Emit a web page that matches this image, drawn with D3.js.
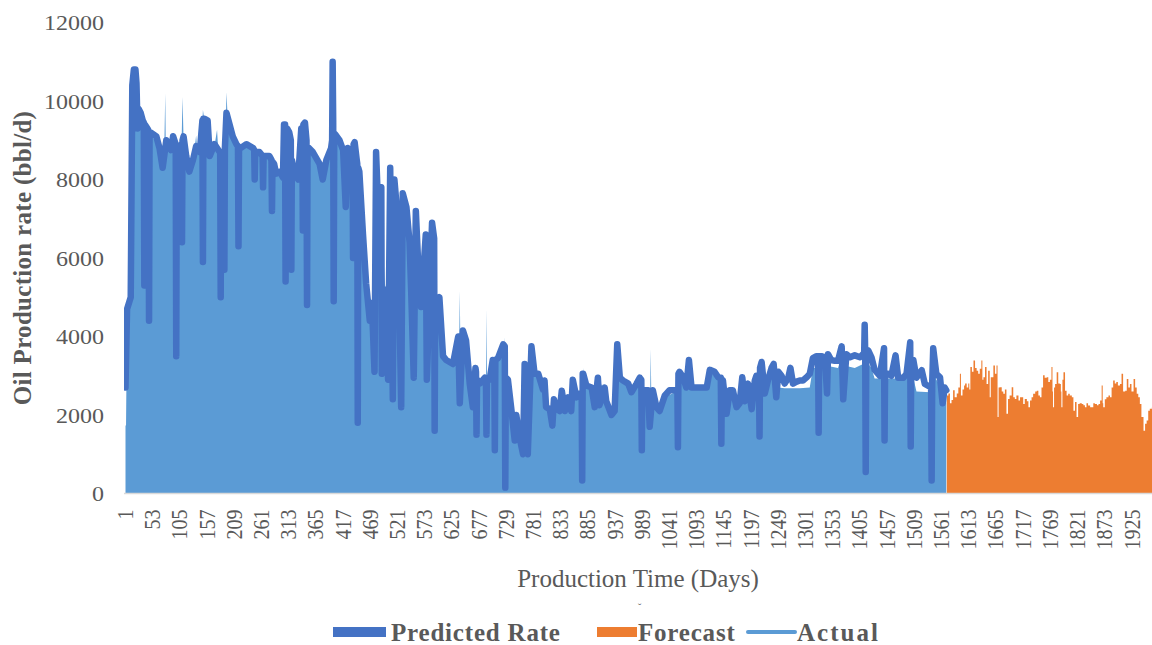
<!DOCTYPE html>
<html>
<head>
<meta charset="utf-8">
<script src="https://cdn.jsdelivr.net/npm/d3@7"></script>
<style>
  body { margin: 0; background: #fff; }
  svg { display: block; font-family: "Liberation Serif", "Times New Roman", serif; }
</style>
</head>
<body>
<div id="chart"></div>
<script>
// Predicted rate, [day, bbl/d]
const predicted = [
    [1,2700],[4,4700],[11,5000],[14,10400],[17,10800],[20,10800],[22,10450],[24,9300],[26,9800],[30,9700],
    [34,9500],[36,9450],[37,5300],[38,9400],[43,9300],[45,9250],[46,4400],[47,9200],[49,9200],[60,9100],
    [66,8800],[72,8300],[79,9000],[88,8750],[92,9100],[97,8900],[98,3500],[99,8850],[102,8800],[108,8900],
    [109,6400],[110,9000],[112,9100],[117,8600],[123,8200],[130,8500],[136,8850],[143,8700],[148,9500],[149,5900],
    [150,9550],[152,9550],[158,9500],[162,8600],[171,8900],[181,8700],[182,8700],[183,5000],[184,8650],[186,8600],
    [189,8600],[190,5700],[191,8800],[194,9700],[200,9400],[206,9100],[213,8900],[216,8850],[217,6300],[218,8800],
    [221,8800],[232,8900],[245,8800],[247,8750],[248,8000],[249,8700],[257,8700],[263,8600],[264,7800],[265,8600],
    [276,8600],[280,8500],[281,7200],[282,8450],[285,8400],[289,8150],[296,8200],[302,8050],[304,9400],[306,9400],
    [307,5400],[308,9300],[310,9300],[314,9200],[317,9000],[318,5700],[319,8500],[324,8200],[331,8000],[337,9300],
    [339,9300],[340,6700],[341,9400],[344,9450],[347,9000],[348,4800],[349,8800],[352,8800],[359,8700],[372,8400],
    [378,8000],[385,8500],[394,8800],[396,9000],[397,11000],[398,9500],[399,4900],[400,9150],[402,9150],[410,9000],
    [417,8750],[422,7300],[426,8800],[433,8700],[435,8700],[436,6000],[437,8900],[439,8950],[443,8500],[444,8400],
    [445,1800],[446,8300],[448,8200],[455,6600],[461,5350],[468,4400],[472,4850],[477,3100],[480,8700],[485,6900],
    [490,7800],[491,3050],[496,5200],[503,2900],[507,8300],[512,2400],[515,8000],[522,6900],[528,2200],[531,7650],
    [538,7300],[544,6400],[547,5200],[552,2950],[556,7200],[560,6000],[566,4750],[575,6600],[577,2900],[582,4850],
    [587,6900],[591,6500],[592,1600],[593,4800],[595,4850],[601,5000],[608,3500],[614,3400],[627,3300],[637,4000],
    [640,2300],[646,4150],[652,3900],[659,2800],[665,2200],[670,3200],[671,3100],[672,1500],[673,2900],[678,2800],
    [688,2950],[690,2900],[691,1500],[692,2900],[697,2900],[703,3400],[706,3350],[707,1100],[708,3400],[713,3450],
    [723,3800],[726,3750],[727,150],[728,2950],[732,2900],[739,2100],[745,1350],[748,2000],[754,1450],[761,1000],
    [764,3300],[770,1000],[777,3750],[783,3050],[790,3050],[799,2650],[802,2880],[805,2200],[812,2150],[817,1730],
    [820,2400],[825,2150],[831,2100],[835,2620],[841,2100],[847,2450],[853,2100],[856,2900],[863,2450],[869,2550],
    [873,2550],[874,330],[875,3050],[876,3050],[882,2750],[892,2700],[898,2200],[904,2950],[907,2250],[917,2700],
    [920,2350],[930,2000],[936,2100],[941,3800],[946,2950],[952,2880],[962,2800],[968,2580],[978,2800],[984,2950],
    [987,2900],[988,1100],[989,2650],[994,2630],[1000,2630],[1003,1700],[1009,2630],[1016,2200],[1022,2100],[1032,2500],
    [1041,2630],[1051,2630],[1056,2630],[1057,1180],[1058,3050],[1060,3100],[1067,2960],[1073,2700],[1078,3400],[1083,2700],
    [1099,2700],[1112,2700],[1118,3150],[1127,3100],[1134,2960],[1139,2950],[1140,1270],[1141,2900],[1143,2880],[1150,2030],
    [1156,2630],[1162,2630],[1169,2200],[1175,2300],[1180,2960],[1185,2350],[1191,2800],[1198,2150],[1204,2880],[1207,3000],
    [1210,2800],[1212,2850],[1213,1450],[1214,3200],[1217,3350],[1223,2550],[1229,2880],[1236,3200],[1240,3300],[1245,2450],
    [1249,3100],[1255,3000],[1261,2800],[1268,2950],[1272,3200],[1277,2800],[1284,2850],[1290,2880],[1296,2880],[1303,2960],
    [1309,3050],[1315,3450],[1322,3500],[1325,3500],[1326,1550],[1327,3500],[1331,3500],[1338,3470],[1342,2550],[1344,3550],
    [1350,3400],[1357,3380],[1363,3380],[1370,3750],[1373,2400],[1379,3550],[1386,3470],[1395,3520],[1405,3470],[1411,3550],
    [1413,3550],[1414,4300],[1415,3600],[1416,550],[1417,3600],[1421,3640],[1427,3470],[1433,3150],[1443,3000],[1451,3700],
    [1452,1350],[1453,3050],[1459,3050],[1465,3000],[1473,3520],[1478,2950],[1488,2950],[1494,3050],[1501,3850],[1502,1200],
    [1503,3400],[1507,3400],[1513,2950],[1523,3140],[1529,2790],[1541,2700],[1542,330],[1543,2800],[1545,3700],[1551,3050],
    [1558,2960],[1563,2300],[1567,2700],[1570,2630]
];

// Actual rate, [day, bbl/d]
const actual = [
    [1,1730],[2,1730],[4,4600],[11,4900],[14,10300],[20,10700],[24,9600],[30,9600],[40,9300],[50,9100],
    [60,9000],[66,8700],[72,8300],[75,8700],[77,10190],[78,8800],[88,8700],[92,9000],[100,8700],[108,8800],
    [110,10100],[112,9000],[117,8500],[123,8150],[130,8400],[136,9120],[138,8800],[143,8650],[148,9450],[149,9770],
    [152,9500],[158,9450],[162,8550],[171,8850],[176,9270],[178,8800],[181,8650],[186,8550],[193,9600],[194,10220],
    [196,9650],[200,9350],[206,9050],[213,8850],[221,8750],[232,8850],[245,8750],[257,8650],[268,8550],[276,8550],
    [285,8350],[289,8100],[296,8150],[302,8000],[305,9350],[314,9150],[321,8450],[324,8150],[331,7950],[337,9250],
    [344,9400],[352,8750],[359,8650],[372,8350],[378,7950],[385,8450],[394,8750],[397,10950],[403,9100],[410,8950],
    [417,8700],[426,8750],[433,8650],[439,8900],[448,8150],[455,6550],[461,5300],[468,4350],[472,4800],[477,4500],
    [480,8000],[485,6800],[490,7500],[496,5500],[503,4500],[507,8000],[512,5000],[515,7800],[522,6800],[528,4500],
    [531,7500],[538,7200],[544,6300],[547,5100],[552,4000],[556,7000],[560,5900],[566,4700],[575,6500],[582,4800],
    [587,6800],[592,4500],[595,4800],[601,4900],[608,3450],[614,3350],[627,3250],[637,3950],[639,3900],[640,5170],
    [641,3900],[646,4100],[652,3850],[659,2750],[665,2300],[670,3150],[678,2750],[688,2900],[690,2850],[691,4710],
    [692,2850],[697,2850],[703,3350],[713,3400],[723,3750],[725,3700],[726,3980],[727,2800],[732,2850],[739,2100],
    [745,1700],[748,1950],[754,1700],[761,1500],[764,3200],[770,1500],[777,3700],[783,3000],[790,3000],[799,2600],
    [805,2150],[817,2100],[825,2100],[835,2550],[847,2400],[856,2850],[869,2500],[876,3000],[877,3200],[878,2700],
    [882,2700],[892,2650],[904,2900],[917,2650],[930,1950],[941,3750],[946,2900],[962,2750],[968,2550],[984,2900],
    [994,2580],[1004,2580],[1005,3690],[1006,2580],[1009,2580],[1022,2050],[1032,2450],[1051,2580],[1060,3050],[1073,2650],
    [1078,3350],[1083,2650],[1112,2650],[1118,3100],[1134,2900],[1143,2830],[1150,2000],[1162,2580],[1175,2250],[1180,2900],
    [1191,2750],[1204,2800],[1217,3300],[1229,2800],[1240,3250],[1249,2700],[1261,2680],[1290,2680],[1309,2700],[1315,3200],
    [1338,3200],[1344,3250],[1363,3200],[1370,3500],[1379,3250],[1395,3200],[1411,3300],[1414,4200],[1418,3350],[1427,3200],
    [1433,2930],[1488,2930],[1500,3700],[1507,2950],[1513,2600],[1539,2580],[1545,3600],[1551,2900],[1570,2550]
];

// Forecast rate, [day, bbl/d]
const forecast = [
    [1571,2500],[1574,2550],[1577,2300],[1580,2380],[1583,2630],[1586,2450],[1590,2550],[1593,2700],[1596,3050],[1598,2500],
    [1601,2650],[1604,2750],[1606,2800],[1609,2700],[1612,2800],[1614,2650],[1616,3220],[1619,3100],[1622,3390],[1625,3200],
    [1628,3130],[1631,3050],[1634,3180],[1637,3390],[1639,2900],[1641,2960],[1644,3220],[1647,2790],[1650,3130],[1653,2450],
    [1655,2960],[1657,2960],[1660,3260],[1663,3050],[1666,3260],[1668,1950],[1670,2700],[1672,2710],[1676,2600],[1679,2540],
    [1682,2650],[1685,2030],[1688,2410],[1691,2500],[1695,2710],[1698,2450],[1701,2410],[1704,2500],[1708,2370],[1711,2450],
    [1714,2450],[1717,2280],[1720,2410],[1724,2350],[1727,2200],[1730,2370],[1733,2450],[1736,2540],[1740,2600],[1743,2620],
    [1746,2500],[1749,2450],[1752,2700],[1755,3010],[1758,2950],[1762,2960],[1765,2840],[1768,2900],[1771,3220],[1773,2600],
    [1774,2200],[1776,2700],[1778,2790],[1781,3090],[1784,2800],[1787,2790],[1789,2600],[1790,2200],[1792,2900],[1794,3090],
    [1797,2620],[1800,2500],[1803,2540],[1806,2500],[1810,2450],[1813,2110],[1816,2330],[1819,1950],[1822,2280],[1825,2300],
    [1829,2280],[1832,2250],[1835,2200],[1838,2300],[1841,2240],[1845,2200],[1848,2200],[1851,2300],[1854,2280],[1858,2250],
    [1861,2280],[1864,2370],[1867,2750],[1869,2300],[1870,2200],[1873,2400],[1876,2450],[1880,2500],[1883,2450],[1886,2700],
    [1889,2880],[1892,2800],[1895,2840],[1898,2750],[1902,2790],[1905,3050],[1908,2600],[1912,2620],[1915,2920],[1918,2700],
    [1921,2790],[1924,2600],[1928,2920],[1931,2700],[1934,2540],[1937,2450],[1940,2280],[1943,1950],[1947,1600],[1950,1780],
    [1953,1860],[1956,2110],[1959,2160],[1963,2200],[1966,2200]
];

const xTicks = [1,53,105,157,209,261,313,365,417,469,521,573,625,677,729,781,833,885,937,989,
    1041,1093,1145,1197,1249,1301,1353,1405,1457,1509,1561,1613,1665,1717,1769,1821,1873,1925];
const yTicks = [0,2000,4000,6000,8000,10000,12000];

const seriesNames = ["Predicted Rate", "Forecast", "Actual"];
const colors = { "Predicted Rate": "#4472C4", "Forecast": "#ED7D31", "Actual": "#5B9BD5" };

const width = 1152, height = 645;
const plotLeft = 124, plotRight = 1152, plotBottom = 493.5;

const svg = d3.select("#chart").append("svg")
    .attr("width", width)
    .attr("height", height);

const x = d3.scaleLinear().domain([1, 1925]).range([125.5, 1132]);
const y = d3.scaleLinear().domain([0, 12000]).range([plotBottom, 22.5]);

svg.append("clipPath").attr("id", "plot")
    .append("rect")
    .attr("x", plotLeft).attr("y", 0)
    .attr("width", plotRight - plotLeft).attr("height", plotBottom);

const plot = svg.append("g").attr("clip-path", "url(#plot)");

// Actual as filled area
plot.append("path")
    .datum(actual)
    .attr("fill", colors["Actual"])
    .attr("d", d3.area().x(d => x(d[0])).y0(y(0)).y1(d => y(d[1])));

// Forecast as stepped columns
plot.append("path")
    .datum(forecast)
    .attr("fill", colors["Forecast"])
    .attr("d", d3.area().curve(d3.curveStepAfter).x(d => x(d[0])).y0(y(0)).y1(d => y(d[1])));

// Predicted rate thick line
plot.append("path")
    .datum(predicted)
    .attr("fill", "none")
    .attr("stroke", colors["Predicted Rate"])
    .attr("stroke-width", 6.5)
    .attr("stroke-linejoin", "round")
    .attr("stroke-linecap", "round")
    .attr("d", d3.line().x(d => x(d[0])).y(d => y(d[1])));

// x axis
const xAxis = svg.append("g")
    .attr("transform", `translate(0,${plotBottom})`)
    .call(d3.axisBottom(x).tickValues(xTicks).tickSize(0).tickFormat(d3.format("d")));
xAxis.select(".domain").remove();
xAxis.append("line")
    .attr("x1", plotLeft).attr("x2", plotRight)
    .attr("stroke", "#D9D9D9").attr("stroke-width", 1.5);
xAxis.selectAll(".tick text")
    .attr("x", 0).attr("y", 0).attr("dy", null)
    .attr("text-anchor", "end")
    .attr("transform", "translate(7,16) rotate(-90) scale(1,1.15)")
    .attr("fill", "#595959")
    .style("font-size", "20px")
    .style("font-family", "Liberation Serif, serif");

// y axis
const yAxis = svg.append("g")
    .attr("transform", `translate(${plotLeft},0)`)
    .call(d3.axisLeft(y).tickValues(yTicks).tickSize(0).tickFormat(d3.format("d")));
yAxis.select(".domain").remove();
yAxis.selectAll(".tick text")
    .attr("x", 0).attr("y", 0).attr("dy", null)
    .attr("text-anchor", "end")
    .attr("transform", "translate(-20,7) scale(1.2,1)")
    .attr("fill", "#595959")
    .style("font-size", "20px")
    .style("font-family", "Liberation Serif, serif");

// axis titles
svg.append("text")
    .attr("transform", "translate(31,258) rotate(-90)")
    .attr("text-anchor", "middle")
    .attr("fill", "#595959")
    .attr("font-weight", "bold")
    .style("font-size", "25px")
    .style("letter-spacing", "0.3px")
    .text("Oil Production rate (bbl/d)");

svg.append("text")
    .attr("x", 638).attr("y", 587)
    .attr("text-anchor", "middle")
    .attr("fill", "#595959")
    .style("font-size", "25px")
    .text("Production Time (Days)");

svg.append("text")
    .attr("x", 638).attr("y", 611)
    .attr("fill", "#595959")
    .style("font-size", "10px")
    .text("ˇ");

// legend
const swatchPos = { "Predicted Rate": [333, 53], "Forecast": [597, 40], "Actual": [748, 47] };
const textPos = { "Predicted Rate": 391, "Forecast": 638, "Actual": 797 };
const legend = svg.selectAll(".legend")
    .data(seriesNames)
    .enter()
    .append("g")
    .attr("class", "legend");

legend.filter(d => d !== "Actual").append("rect")
    .attr("x", d => swatchPos[d][0]).attr("y", 627)
    .attr("width", d => swatchPos[d][1]).attr("height", 10)
    .attr("fill", d => colors[d]);

legend.filter(d => d === "Actual").append("line")
    .attr("x1", d => swatchPos[d][0]).attr("x2", d => swatchPos[d][0] + swatchPos[d][1])
    .attr("y1", 632).attr("y2", 632)
    .attr("stroke", d => colors[d])
    .attr("stroke-width", 4)
    .attr("stroke-linecap", "round");

legend.append("text")
    .attr("x", d => textPos[d]).attr("y", 641)
    .attr("fill", "#595959")
    .attr("font-weight", "bold")
    .style("font-size", "25px")
    .style("letter-spacing", d => d === "Actual" ? "2px" : "0.8px")
    .text(d => d);
</script>
</body>
</html>
